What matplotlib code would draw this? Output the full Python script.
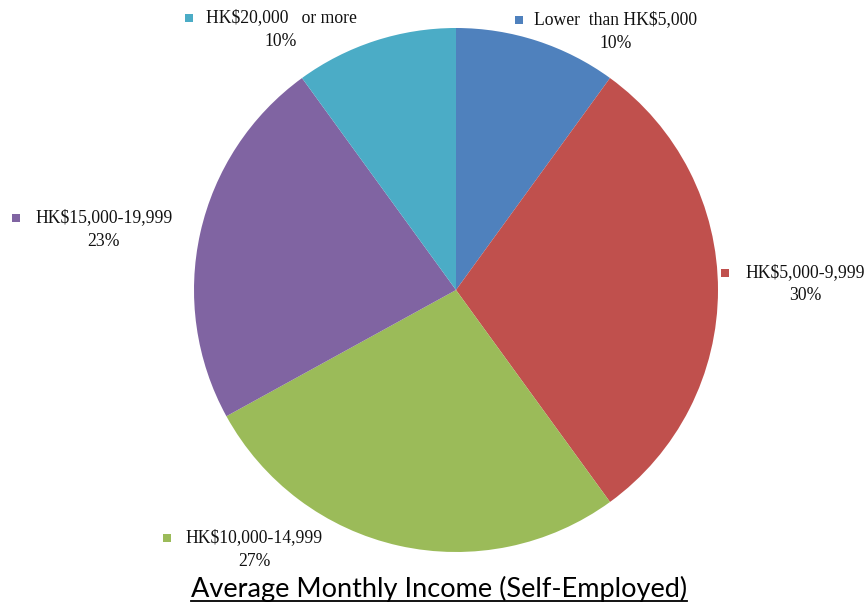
import matplotlib.pyplot as plt
from matplotlib.lines import Line2D
from matplotlib.patches import Rectangle

# ==========================
# DATA
# ==========================
categories = ["Lower  than HK$5,000", "HK$5,000-9,999", "HK$10,000-14,999",
              "HK$15,000-19,999", "HK$20,000   or more"]
shares = [10, 30, 27, 23, 10]
colors = ["#4F81BD", "#C0504D", "#9BBB59", "#8064A2", "#4BACC6"]
title = "Average Monthly Income (Self-Employed)"

# label layout in pixels (x centre, y of first line from top, marker x)
label_pos = [(616, 20, 519), (805, 273, 725), (254, 538, 167),
             (104, 218, 16), (281, 18, 189)]

W, H = 867, 605
fig = plt.figure(figsize=(W / 100, H / 100), dpi=100)

# pie: centre (456, 290) px, radius 262 px
cx, cy, r = 456, 290, 262
ax = fig.add_axes([(cx - r) / W, (H - cy - r) / H, 2 * r / W, 2 * r / H])
ax.pie(shares, colors=colors, startangle=90, counterclock=False, radius=1,
       wedgeprops=dict(linewidth=0))
ax.set_xlim(-1, 1)
ax.set_ylim(-1, 1)
ax.set_aspect("equal")
ax.axis("off")


def fx(x):
    return x / W


def fy(y):
    return 1 - y / H


for cat, val, col, (x, y, mx) in zip(categories, shares, colors, label_pos):
    fig.text(fx(x), fy(y), cat, ha="center", va="center",
             family="Liberation Serif", fontsize=12.7, color="#111111")
    fig.text(fx(x), fy(y + 23), f"{val}%", ha="center", va="center",
             family="Liberation Serif", fontsize=12.7, color="#111111")
    s = 8
    fig.add_artist(Rectangle((fx(mx - s / 2), fy(y + s / 2)), s / W, s / H,
                             transform=fig.transFigure, color=col, lw=0))

t = fig.text(fx(439), fy(589), title, ha="center", va="center",
             family="Lato", fontsize=19.5, color="black")

# underline the title
fig.canvas.draw()
bb = t.get_window_extent()
uy = bb.y0 + 1
fig.add_artist(Line2D([bb.x0 / W, bb.x1 / W], [uy / H, uy / H],
                      transform=fig.transFigure, color="black", lw=1.3))

fig.savefig("out.png", dpi=100)
